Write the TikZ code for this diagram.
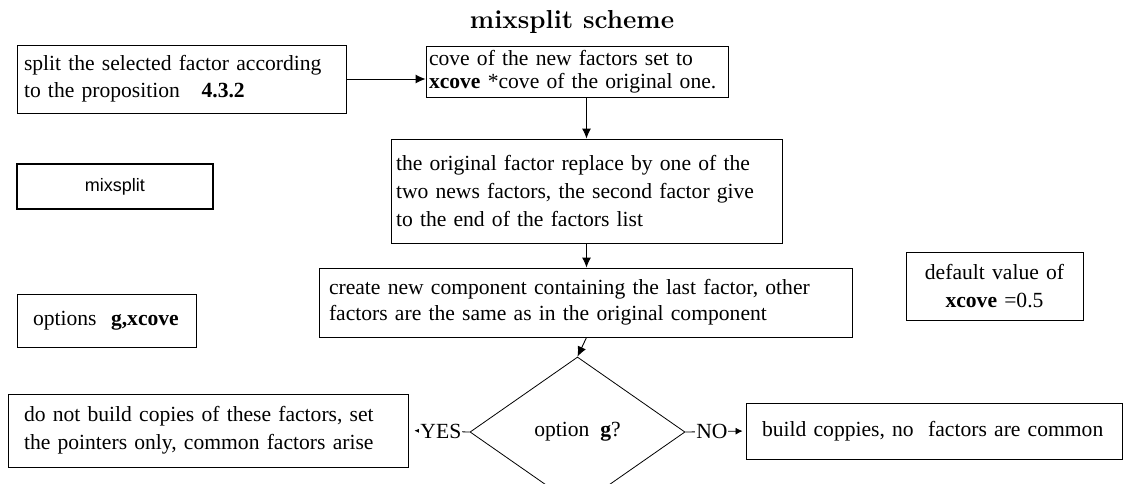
\documentclass[tikz,border=0pt]{standalone}
\usepackage{fontspec}
\newfontfamily\tnr{Liberation Serif}
\newfontfamily\helv{Liberation Sans}
\usetikzlibrary{arrows.meta,shapes.geometric}

\begin{document}
\begin{tikzpicture}[x=1pt,y=-1pt,line width=0.9pt,>={Latex[length=10pt,width=9pt]}]
  \tikzstyle{every node}=[font=\tnr\fontsize{21.6}{27}\selectfont]
  \tikzstyle{box}=[draw,rectangle,inner ysep=0pt,align=left]
  \tikzstyle{small tip}=[-{Latex[length=7pt,width=7pt]}]
  \useasboundingbox (0,0) rectangle (1125,483);
  \node[font={\fontsize{26}{30}\selectfont\bfseries}] (title) at (572,22) {mixsplit scheme};
  % left column
  \node[box,inner xsep=7pt,text width=315pt,minimum height=68pt] (split) at (181.5,79)
    {split the selected factor according\\to the proposition\quad\textbf{4.3.2}};
  \node[box,line width=2pt,align=center,minimum width=196pt,minimum height=45pt,
        font={\helv\fontsize{18}{20}\selectfont}] (mix) at (115,186.5) {mixsplit};
  \node[box,inner xsep=16pt,text width=147pt,minimum height=53pt] (opts) at (106.5,320.5)
    {options\ \ \textbf{g,xcove}};
  % main chain
  \node[box,inner xsep=3pt,text width=296pt,minimum height=51pt,
        font={\tnr\fontsize{21.6}{23}\selectfont}] (cove) at (577,71.5)
    {cove of the new factors set to\\\textbf{xcove} *cove of the original one.};
  \node[box,inner xsep=5pt,text width=381pt,minimum height=104pt,
        font={\tnr\fontsize{21.6}{28}\selectfont}] (mid) at (586.5,191)
    {the original factor replace by one of the\\two news factors, the second factor give\\to the end of the factors list};
  \node[box,inner xsep=10pt,text width=513pt,minimum height=69pt,
        font={\tnr\fontsize{21.6}{26}\selectfont}] (create) at (585.5,302.5)
    {create new component containing the last factor, other\\factors are the same as in the original component};
  \node[box,align=center,inner xsep=7pt,text width=163pt,minimum height=68pt,
        font={\tnr\fontsize{21.6}{28}\selectfont}] (dflt) at (994.5,286)
    {default value of\\\textbf{xcove} =0.5};
  \node[draw,diamond,line width=0.8pt,inner sep=0pt,minimum width=215pt,minimum height=150pt] (dec) at (577.5,432)
    {option\ \ \textbf{g}?};
  \node[box,inner xsep=16pt,text width=368pt,minimum height=73pt,
        font={\tnr\fontsize{21.6}{28}\selectfont}] (yes) at (208,430.5)
    {do not build copies of these factors, set\\the pointers only, common factors arise};
  \node[box,inner xsep=16pt,text width=344pt,minimum height=56pt] (no) at (934,431)
    {build coppies, no\ \ factors are common};

  \draw[->] (split.east) -- (split.east -| cove.west);
  \draw[->] (cove.south -| mid.north) -- (mid.north);
  \draw[->] (mid.south) -- (mid.south |- create.north);
  \draw[->] (create.south -| mid.south) -- (dec.north);
  \draw[small tip,line width=0.8pt,shorten >=6pt] (dec.west) -- node[pos=0.47,fill=white,inner xsep=1pt,inner ysep=0pt] {YES} (yes.east);
  \draw[small tip,line width=0.8pt,shorten >=3pt] (dec.east) -- node[pos=0.44,fill=white,inner xsep=1pt,inner ysep=0pt] {NO} (no.west);
\end{tikzpicture}
\end{document}
